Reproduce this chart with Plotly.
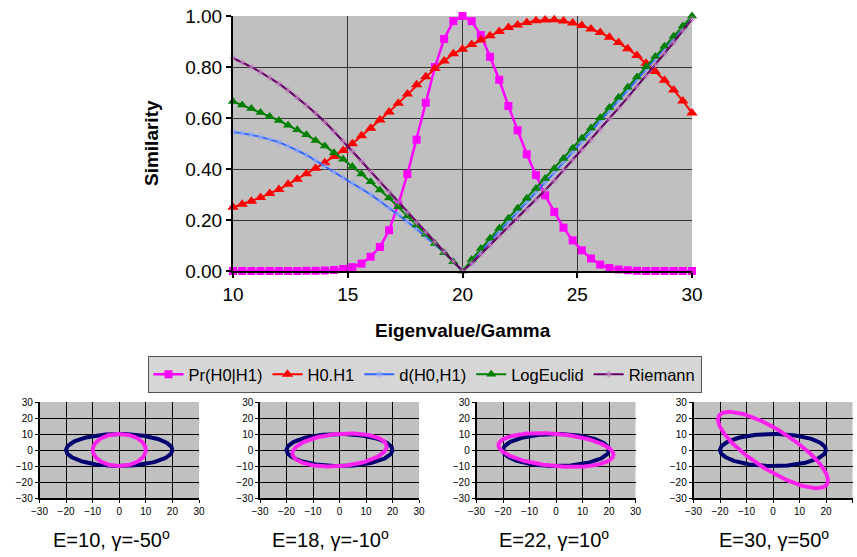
import numpy as np
import plotly.graph_objects as go

# ---------------- data ----------------
x_vals = [10.0, 10.4, 10.8, 11.2, 11.6, 12.0, 12.4, 12.8, 13.2, 13.6,
          14.0, 14.4, 14.8, 15.2, 15.6, 16.0, 16.4, 16.8, 17.2, 17.6,
          18.0, 18.4, 18.8, 19.2, 19.6, 20.0, 20.4, 20.8, 21.2, 21.6,
          22.0, 22.4, 22.8, 23.2, 23.6, 24.0, 24.4, 24.8, 25.2, 25.6,
          26.0, 26.4, 26.8, 27.2, 27.6, 28.0, 28.4, 28.8, 29.2, 29.6, 30.0]

pr_h0_h1 = [0.000, 0.000, 0.000, 0.000, 0.000, 0.000, 0.000, 0.000, 0.001, 0.001,
            0.002, 0.004, 0.008, 0.015, 0.029, 0.056, 0.094, 0.160, 0.260, 0.380,
            0.515, 0.660, 0.800, 0.910, 0.980, 1.000, 0.980, 0.925, 0.840, 0.750,
            0.647, 0.552, 0.458, 0.376, 0.297, 0.232, 0.170, 0.120, 0.081, 0.049,
            0.025, 0.012, 0.006, 0.003, 0.001, 0.000, 0.000, 0.000, 0.000, 0.000, 0.000]

h0_dot_h1 = [0.250, 0.262, 0.274, 0.288, 0.304, 0.320, 0.340, 0.360, 0.381, 0.403,
             0.425, 0.449, 0.473, 0.499, 0.530, 0.560, 0.592, 0.624, 0.658, 0.694,
             0.730, 0.762, 0.794, 0.824, 0.852, 0.870, 0.888, 0.906, 0.923, 0.939,
             0.955, 0.965, 0.975, 0.981, 0.984, 0.985, 0.980, 0.973, 0.963, 0.949,
             0.935, 0.917, 0.896, 0.872, 0.845, 0.815, 0.782, 0.748, 0.710, 0.667, 0.620]

d_h0_h1 = [0.545, 0.540, 0.534, 0.526, 0.516, 0.505, 0.490, 0.474, 0.455, 0.433,
           0.410, 0.388, 0.366, 0.344, 0.322, 0.300, 0.274, 0.248, 0.221, 0.193,
           0.165, 0.135, 0.105, 0.073, 0.038, 0.000, 0.035, 0.075, 0.118, 0.156,
           0.193, 0.231, 0.269, 0.308, 0.347, 0.386, 0.426, 0.466, 0.506, 0.546,
           0.586, 0.627, 0.668, 0.709, 0.750, 0.791, 0.832, 0.873, 0.914, 0.955, 0.996]

log_euclid = [0.665, 0.651, 0.637, 0.622, 0.606, 0.590, 0.572, 0.554, 0.534, 0.512,
              0.490, 0.464, 0.438, 0.410, 0.380, 0.350, 0.318, 0.286, 0.252, 0.216,
              0.180, 0.144, 0.108, 0.072, 0.036, 0.000, 0.045, 0.088, 0.128, 0.168,
              0.207, 0.246, 0.285, 0.324, 0.363, 0.402, 0.441, 0.481, 0.521, 0.561,
              0.601, 0.641, 0.681, 0.721, 0.761, 0.801, 0.841, 0.881, 0.921, 0.961, 1.000]

riemann = [0.835, 0.818, 0.800, 0.780, 0.758, 0.735, 0.708, 0.680, 0.650, 0.618,
           0.585, 0.547, 0.509, 0.470, 0.430, 0.390, 0.350, 0.310, 0.270, 0.230,
           0.190, 0.152, 0.114, 0.076, 0.038, 0.000, 0.030, 0.066, 0.102, 0.136,
           0.170, 0.206, 0.242, 0.279, 0.317, 0.355, 0.395, 0.435, 0.475, 0.515,
           0.555, 0.597, 0.639, 0.681, 0.723, 0.765, 0.809, 0.853, 0.897, 0.942, 0.988]

series_names = ["Pr(H0|H1)", "H0.H1", "d(H0,H1)", "LogEuclid", "Riemann"]

main_xticks = [10, 15, 20, 25, 30]
main_yticks = [0.0, 0.2, 0.4, 0.6, 0.8, 1.0]
main_ytext = ["0.00", "0.20", "0.40", "0.60", "0.80", "1.00"]

# small ellipse panels
panel_E = [10, 18, 22, 30]
panel_gamma = [-50, -10, 10, 50]
panel_minor = [10, 10, 10, 10]
ref_major = 20
ref_minor = 10
small_ticks = [-30, -20, -10, 0, 10, 20, 30]

# ---------------- figure ----------------
W, H = 857, 557


def px(v):
    return v / W


def py(v):
    return 1 - v / H


fig = go.Figure()

styles = [
    dict(line=dict(color="#FF00FF", width=2.5),
         marker=dict(symbol="square", size=8, color="#FF00FF")),
    dict(line=dict(color="#FF0000", width=2),
         marker=dict(symbol="triangle-up", size=10, color="#FF0000")),
    dict(line=dict(color="#3366FF", width=2),
         marker=dict(symbol="asterisk-open", size=6, color="#8FA8FF",
                     line=dict(width=0.8, color="#8FA8FF"))),
    dict(line=dict(color="#008000", width=2),
         marker=dict(symbol="triangle-up", size=9, color="#008000")),
    dict(line=dict(color="#660066", width=2.2),
         marker=dict(symbol="asterisk-open", size=6, color="#C080C0",
                     line=dict(width=0.8, color="#C080C0"))),
]
all_series = [pr_h0_h1, h0_dot_h1, d_h0_h1, log_euclid, riemann]

for name, ys, st in zip(series_names, all_series, styles):
    fig.add_trace(go.Scatter(x=x_vals, y=ys, name=name, mode="lines+markers",
                             line=st["line"], marker=st["marker"],
                             cliponaxis=False, xaxis="x", yaxis="y"))

# ellipses
t = np.linspace(0, 2 * np.pi, 200)
panel_x_dom = [(39.5, 199), (260, 419), (476.5, 635.5), (693.5, 852.5)]
panel_y_dom = (402, 498)
for i, (E, g, mn) in enumerate(zip(panel_E, panel_gamma, panel_minor)):
    ax = str(i + 2)
    rx = ref_major * np.cos(t)
    ry = ref_minor * np.sin(t)
    fig.add_trace(go.Scatter(x=rx, y=ry, mode="lines", showlegend=False,
                             line=dict(color="#000070", width=4),
                             xaxis="x" + ax, yaxis="y" + ax, hoverinfo="skip"))
    th = np.deg2rad(-g)
    ex = E * np.cos(t)
    ey = mn * np.sin(t)
    qx = ex * np.cos(th) - ey * np.sin(th)
    qy = ex * np.sin(th) + ey * np.cos(th)
    fig.add_trace(go.Scatter(x=qx, y=qy, mode="lines", showlegend=False,
                             line=dict(color="#FF22EE", width=4),
                             xaxis="x" + ax, yaxis="y" + ax, hoverinfo="skip"))

font_family = "Arial, Liberation Sans, sans-serif"

layout = dict(
    width=W, height=H,
    margin=dict(l=0, r=0, t=0, b=0),
    paper_bgcolor="white",
    plot_bgcolor="#C0C0C0",
    font=dict(family=font_family, color="black"),
    showlegend=True,
    legend=dict(orientation="h", x=px(424.5), xanchor="center",
                y=py(356), yanchor="top",
                bgcolor="#D6D6D6", bordercolor="#555555", borderwidth=1,
                font=dict(size=16.5, family=font_family), itemwidth=30,
                tracegroupgap=0),
    xaxis=dict(domain=[px(233), px(692)], range=[10, 30], anchor="y",
               tickvals=main_xticks, ticks="outside", ticklen=5,
               tickcolor="black", tickwidth=2,
               showline=True, linecolor="black", linewidth=2,
               showgrid=True, gridcolor="#333333", gridwidth=1,
               zeroline=False, tickfont=dict(size=19), automargin=False),
    yaxis=dict(domain=[py(271), py(16)], range=[0, 1], anchor="x",
               tickvals=main_yticks, ticktext=main_ytext,
               ticks="outside", ticklen=5, tickcolor="black", tickwidth=2,
               showline=True, linecolor="black", linewidth=2,
               showgrid=True, gridcolor="#333333", gridwidth=1,
               zeroline=False, tickfont=dict(size=19), automargin=False),
    annotations=[
        dict(text="<b>Eigenvalue/Gamma</b>", x=px(462.5), y=py(330),
             xref="paper", yref="paper", showarrow=False,
             font=dict(size=19), xanchor="center", yanchor="middle"),
        dict(text="<b>Similarity</b>", x=px(151), y=py(143),
             xref="paper", yref="paper", showarrow=False, textangle=-90,
             font=dict(size=19), xanchor="center", yanchor="middle"),
    ],
)

sub_centers = [111, 330, 554, 773.5]
for i, (E, g) in enumerate(zip(panel_E, panel_gamma)):
    n = i + 2
    x0, x1 = panel_x_dom[i]
    common = dict(showline=True, linecolor="black", linewidth=1.5,
                  showgrid=True, gridcolor="black", gridwidth=1,
                  zeroline=False, tickvals=small_ticks,
                  ticks="outside", ticklen=3, tickcolor="black",
                  tickfont=dict(size=10), automargin=False, fixedrange=True)
    layout["xaxis%d" % n] = dict(domain=[px(x0), px(x1)], range=[-30, 30],
                                 anchor="y%d" % n, **common)
    layout["yaxis%d" % n] = dict(domain=[py(panel_y_dom[1]), py(panel_y_dom[0])],
                                 range=[-30, 30], anchor="x%d" % n, **common)
    layout["annotations"].append(
        dict(text="E=%d, \u03b3=%d<sup>o</sup>" % (E, g),
             x=px(sub_centers[i]), y=py(538), xref="paper", yref="paper",
             showarrow=False, font=dict(size=20), xanchor="center",
             yanchor="middle"))

fig.update_layout(**layout)
fig.write_html("out.html")
